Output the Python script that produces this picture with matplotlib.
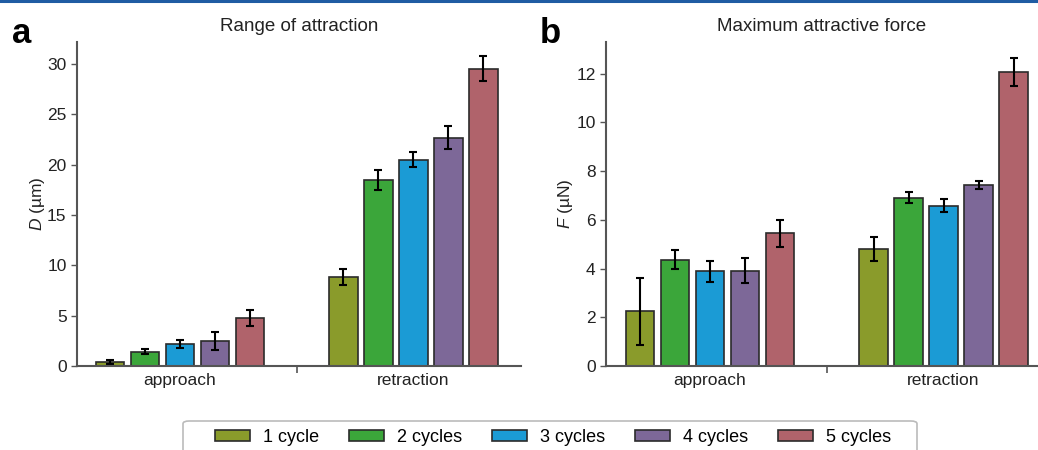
import numpy as np
import matplotlib
matplotlib.use("Agg")
import matplotlib.pyplot as plt
from matplotlib.lines import Line2D
from matplotlib.patches import FancyBboxPatch

plt.rcParams['font.family'] = ['Liberation Sans', 'DejaVu Sans']
plt.rcParams['mathtext.fontset'] = 'custom'
plt.rcParams['mathtext.rm'] = 'Liberation Sans'
plt.rcParams['mathtext.it'] = 'Liberation Sans:italic'

groups = ["approach", "retraction"]
cycles = ["1 cycle", "2 cycles", "3 cycles", "4 cycles", "5 cycles"]
colors = ["#8a9b2b", "#3ba63a", "#1b9bd5", "#7d6898", "#b0636b"]

# range of attraction D (um), rows = cycles, cols = approach / retraction
D_mean = [[0.42, 8.85], [1.43, 18.5], [2.15, 20.5], [2.48, 22.7], [4.77, 29.55]]
D_err = [[0.18, 0.78], [0.25, 1.0], [0.4, 0.76], [0.88, 1.14], [0.76, 1.26]]

# maximum attractive force F (uN)
F_mean = [[2.25, 4.82], [4.37, 6.91], [3.88, 6.58], [3.92, 7.43], [5.44, 12.06]]
F_err = [[1.37, 0.49], [0.39, 0.22], [0.45, 0.26], [0.5, 0.18], [0.57, 0.58]]

W, H = 1038, 450
fig = plt.figure(figsize=(W / 100, H / 100), dpi=100)

# thin journal rule across the top
fig.add_artist(Line2D([0, 1], [1 - 1 / H, 1 - 1 / H], color="#1f5ca3", lw=2.2,
                      transform=fig.transFigure))

ax1 = fig.add_axes([77 / W, 1 - 366 / H, 444 / W, 324 / H])
ax2 = fig.add_axes([606 / W, 1 - 366 / H, 432 / W, 324 / H])

x = np.arange(len(groups))
step = 0.15
bw = 0.1225


def draw(ax, mean, err, ylim, yticks, ylabel, title, xlim):
    for i in range(len(cycles)):
        ax.bar(x + (i - 2) * step, mean[i], bw, yerr=err[i], color=colors[i],
               edgecolor="#2b2b2b", linewidth=1.2, label=cycles[i],
               error_kw=dict(ecolor="black", elinewidth=1.5, capsize=3, capthick=1.5))
    ax.set_xlim(*xlim)
    ax.set_ylim(*ylim)
    ax.set_yticks(yticks)
    ax.set_xticks(x)
    ax.set_xticklabels(groups, fontsize=12.5)
    ax.set_xticks([0.5], minor=True)
    ax.tick_params(axis="x", which="major", length=0, pad=5, colors="#222222")
    ax.tick_params(axis="x", which="minor", length=5, width=1.2, color="#555555")
    ax.tick_params(axis="y", length=4, width=1, color="#555555", labelsize=12.5,
                   labelcolor="#222222")
    for s in ["top", "right"]:
        ax.spines[s].set_visible(False)
    for s in ["left", "bottom"]:
        ax.spines[s].set_color("#555555")
        ax.spines[s].set_linewidth(1.5)
    ax.set_ylabel(ylabel, fontsize=12.5, color="#222222")
    ax.set_title(title, fontsize=13.5, pad=8, color="#222222")


draw(ax1, D_mean, D_err, (0, 32.2), range(0, 31, 5), r"$\mathit{D}$ (µm)",
     "Range of attraction", (-0.441, 1.461))
draw(ax2, F_mean, F_err, (0, 13.3), range(0, 13, 2), r"$\mathit{F}$ (µN)",
     "Maximum attractive force", (-0.445, 1.404))
ax1.yaxis.set_label_coords(-0.068, 0.5)
ax2.yaxis.set_label_coords(-0.072, 0.5)

fig.text(12 / W, 1 - 43 / H, "a", fontsize=25, fontweight="bold", va="baseline")
fig.text(540 / W, 1 - 43 / H, "b", fontsize=25, fontweight="bold", va="baseline")

# legend box (runs past the bottom edge, as in the reference)
box = FancyBboxPatch((183 / W, -20 / H), 734 / W, (450 - 421 + 20) / H,
                     boxstyle="round,pad=0,rounding_size=0.006",
                     transform=fig.transFigure, facecolor="white",
                     edgecolor="#bbbbbb", linewidth=1.2)
fig.add_artist(box)

handles, labels = ax1.get_legend_handles_labels()
leg = fig.legend(handles, labels, loc="center", bbox_to_anchor=(553 / W, 1 - 437.5 / H),
                 ncol=5, fontsize=13, frameon=False,
                 handlelength=1.94, handleheight=0.61, handletextpad=0.72,
                 columnspacing=1.66, borderpad=0.0)

fig.savefig("out.png", dpi=100)
